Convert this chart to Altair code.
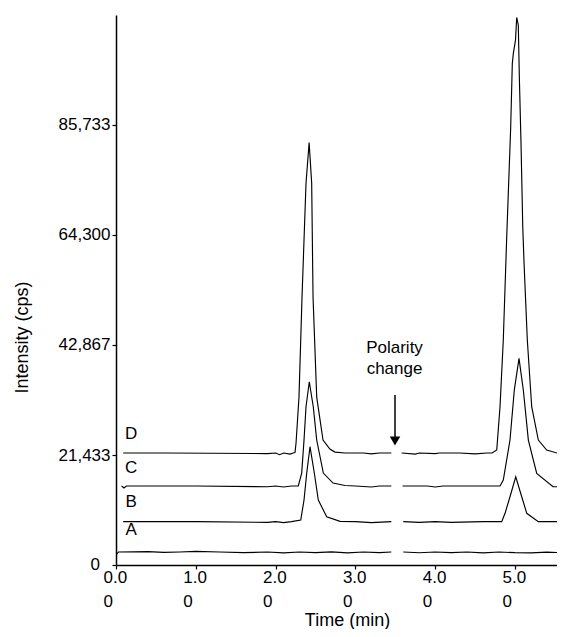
import altair as alt
import pandas as pd

# ---- data (time in min, intensity in cps) ----
D1_t = [0.09, 0.6, 1.2, 1.9, 2.0, 2.05, 2.1, 2.18, 2.22, 2.243, 2.256, 2.293, 2.331, 2.381, 2.42, 2.452, 2.469, 2.515, 2.594, 2.68, 2.744, 2.87, 3.1, 3.2, 3.3, 3.45]
D1_v = [21820, 21820, 21780, 21700, 21820, 21500, 21820, 21600, 21820, 21900, 23770, 32730, 52200, 74400, 82300, 74400, 52200, 32700, 24350, 22600, 22000, 21820, 21820, 21650, 21820, 21820]
D2_t = [3.58, 3.75, 3.8, 4.0, 4.05, 4.3, 4.5, 4.65, 4.712, 4.771, 4.812, 4.853, 4.896, 4.946, 4.966, 4.979, 5.006, 5.021, 5.041, 5.054, 5.075, 5.097, 5.113, 5.154, 5.209, 5.292, 5.397, 5.564, 5.63]
D2_v = [21820, 21600, 21820, 21700, 21820, 21820, 21650, 21820, 21820, 22400, 30840, 43830, 63950, 85380, 97730, 99680, 102270, 106690, 105200, 95120, 82200, 65900, 58830, 43830, 30840, 24350, 22400, 21650, 21650]

C1_t = [0.07, 0.1, 0.13, 1.0, 1.9, 2.0, 2.1, 2.2, 2.284, 2.327, 2.356, 2.381, 2.422, 2.472, 2.515, 2.598, 2.719, 2.87, 3.0, 3.2, 3.3, 3.45]
C1_v = [15390, 15000, 15390, 15390, 15250, 15390, 15200, 15390, 15390, 17920, 24350, 30840, 35710, 30840, 24350, 17920, 15970, 15500, 15390, 15200, 15390, 15390]
C2_t = [3.59, 3.9, 4.0, 4.1, 4.6, 4.812, 4.853, 4.937, 4.991, 5.05, 5.104, 5.167, 5.272, 5.476, 5.63]
C2_v = [15390, 15390, 15200, 15390, 15390, 15390, 16560, 24350, 34090, 40270, 34090, 24350, 17860, 15250, 15250]

B1_t = [0.09, 1.0, 1.9, 2.0, 2.1, 2.2, 2.315, 2.356, 2.39, 2.431, 2.485, 2.535, 2.64, 2.807, 3.0, 3.2, 3.45]
B1_v = [8440, 8440, 8300, 8440, 8250, 8440, 8770, 12660, 17920, 23050, 17920, 12660, 9410, 8500, 8440, 8250, 8440]
B2_t = [3.60, 3.8, 4.0, 4.2, 4.6, 4.833, 4.875, 4.937, 5.009, 5.084, 5.147, 5.292, 5.63]
B2_v = [8440, 8300, 8440, 8300, 8440, 8440, 10070, 13300, 17200, 13300, 10070, 8440, 8440]

A1_t = [0.0, 0.03, 0.4, 0.6, 0.8, 1.0, 1.3, 1.6, 1.9, 2.1, 2.3, 2.5, 2.7, 2.9, 3.1, 3.3, 3.45]
A1_v = [1900, 2530, 2600, 2450, 2530, 2650, 2530, 2400, 2530, 2350, 2530, 2400, 2550, 2350, 2530, 2400, 2530]
A2_t = [3.6, 3.8, 4.0, 4.2, 4.4, 4.6, 4.8, 5.0, 5.2, 5.4, 5.63]
A2_v = [2530, 2380, 2530, 2400, 2530, 2350, 2530, 2400, 2350, 2500, 2400]

trace_labels = ["D", "C", "B", "A"]
trace_label_t = [0.19, 0.19, 0.19, 0.19]
trace_label_v = [25520, 18900, 12270, 6820]

note_lines = ["Polarity", "change"]
note_t = [3.49, 3.49]
note_v = [42270, 38180]

arrow_t = [3.496]
arrow_v_start = [33120]
arrow_v_end = [24700]
arrow_head_v = [24150]

y_ticks = [0, 21433, 42867, 64300, 85733]
x_ticks = [0, 1, 2, 3, 4, 5]
y_max = 107166
x_max = 5.526

# ---- build tables ----
rows = []
for name, ts, vs in [("D1", D1_t, D1_v), ("D2", D2_t, D2_v), ("C1", C1_t, C1_v), ("C2", C2_t, C2_v),
                     ("B1", B1_t, B1_v), ("B2", B2_t, B2_v), ("A1", A1_t, A1_v), ("A2", A2_t, A2_v)]:
    for i, (t, v) in enumerate(zip(ts, vs)):
        rows.append({"seg": name, "t": t, "v": v, "o": i})
traces = pd.DataFrame(rows)

labels = pd.DataFrame({"t": trace_label_t, "v": trace_label_v, "txt": trace_labels})
notes = pd.DataFrame({"t": note_t, "v": note_v, "txt": note_lines})
arrow = pd.DataFrame({"t": arrow_t, "v": arrow_v_start, "v2": arrow_v_end, "vh": arrow_head_v})
zero_label = pd.DataFrame({"t": [0.0], "v": [y_ticks[0]], "txt": ["0"]})

FONT = "Liberation Sans"

xscale = alt.Scale(domain=[0, x_max], nice=False, zero=False)
yscale = alt.Scale(domain=[0, y_max], nice=False)

xaxis = alt.Axis(values=x_ticks, title="Time (min)",
                 labelExpr="[format(datum.value, '.1f'), '0']",
                 labelAlign="left", labelOffset=-13, labelLineHeight=24,
                 labelPadding=0, tickSize=4, grid=False, labelFlush=False, labelOverlap=False,
                 titleX=231, titleY=55, titleBaseline="middle", titleAlign="center")
yaxis = alt.Axis(values=y_ticks, format=",.0f", title="Intensity (cps)", tickSize=4,
                 labelExpr="datum.value == 0 ? '' : datum.label",
                 labelPadding=2, grid=False, labelFlush=False, labelOverlap=False,
                 titleX=-94, titleY=322, titleBaseline="middle", titleAlign="center", titleAngle=-90)

lines = alt.Chart(traces).mark_line(color="black", strokeWidth=1.15, clip=True).encode(
    x=alt.X("t:Q", scale=xscale, axis=xaxis),
    y=alt.Y("v:Q", scale=yscale, axis=yaxis),
    detail="seg:N",
    order="o:Q",
)

lab = alt.Chart(labels).mark_text(font=FONT, fontSize=17, color="black", baseline="middle", align="center").encode(
    x="t:Q", y="v:Q", text="txt:N")

nt = alt.Chart(notes).mark_text(font=FONT, fontSize=17, color="black", baseline="middle", align="center").encode(
    x="t:Q", y="v:Q", text="txt:N")

zl = alt.Chart(zero_label).mark_text(font=FONT, fontSize=17, color="black", baseline="middle", align="right", dx=-16).encode(
    x="t:Q", y="v:Q", text="txt:N")

shaft = alt.Chart(arrow).mark_rule(color="black", strokeWidth=1.5).encode(
    x="t:Q", y="v:Q", y2="v2:Q")

head = alt.Chart(arrow).mark_point(shape="triangle-down", filled=True, color="black", size=110, opacity=1).encode(
    x="t:Q", y="vh:Q")

chart = alt.layer(lines, lab, nt, zl, shaft, head).properties(
    width=441, height=550,
    padding={"left": 108, "top": 7, "right": 0, "bottom": 64},
    autosize=alt.AutoSizeParams(type="none"),
).configure_view(stroke=None).configure_axis(
    labelFont=FONT, titleFont=FONT, labelFontSize=17, titleFontSize=18,
    labelColor="black", titleColor="black", titleFontWeight="normal",
    domainColor="black", tickColor="black", domainWidth=1.5, tickWidth=1.2,
)

chart.save("out.html", embed_options={"renderer": "svg", "actions": False})
